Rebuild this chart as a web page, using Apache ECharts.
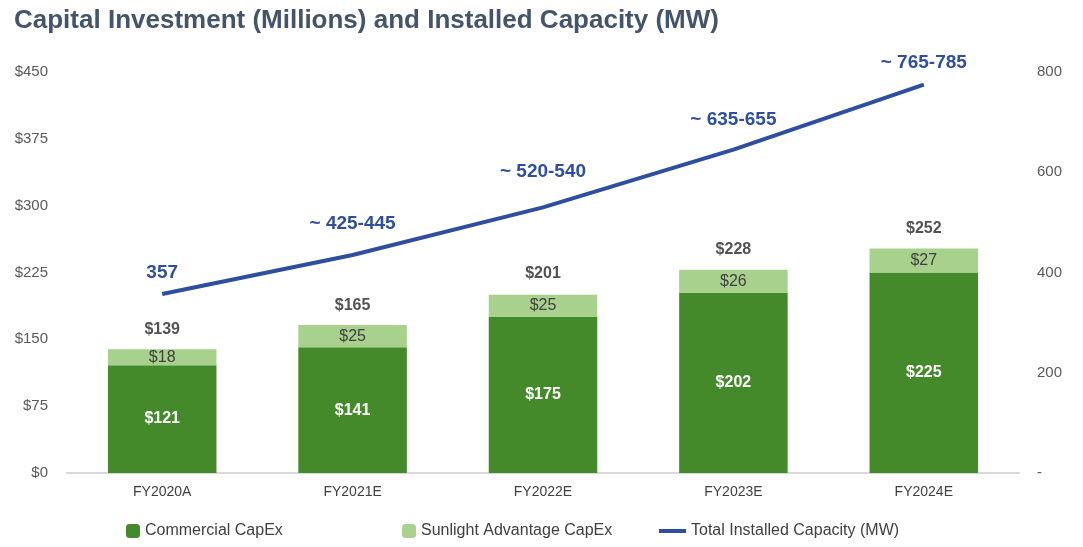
<!DOCTYPE html>
<html><head><meta charset="utf-8">
<script src="https://cdn.jsdelivr.net/npm/echarts@6/dist/echarts.min.js"></script>
<style>html,body{margin:0;padding:0;background:#fff}#c{width:1083px;height:547px}</style>
</head><body><div id="c"></div>
<script>
var categories = ['FY2020A','FY2021E','FY2022E','FY2023E','FY2024E'];
var commercial = [121, 141, 175, 202, 225];
var sunlight = [18, 25, 25, 26, 27];
var totals = [139, 165, 201, 228, 252];
var capacity = [357, 435, 530, 645, 775];
var capacityLabels = ['357', '~ 425-445', '~ 520-540', '~ 635-655', '~ 765-785'];
var capacityLabelOffsets = [12, 22, 26, 20, 12];
var leftTicks = [0, 75, 150, 225, 300, 375, 450];
var rightTicks = [0, 200, 400, 600, 800];

var chart = echarts.init(document.getElementById('c'));
var font = 'Liberation Sans, Arial, sans-serif';
chart.setOption({
  animation: false,
  textStyle: {fontFamily: font},
  title: {text: 'Capital Investment (Millions) and Installed Capacity (MW)', left: 9, top: 3,
    textStyle: {fontSize: 26, fontWeight: 'bold', color: '#44546A', fontFamily: font}},
  grid: {left: 67, right: 64, top: 72, bottom: 74},
  legend: [
    {data: ['Commercial CapEx'], left: 121, top: 518, itemWidth: 14, itemHeight: 14, itemGap: 10,
      textStyle: {fontSize: 16, color: '#404040'}},
    {data: ['Sunlight Advantage CapEx'], left: 397, top: 518, itemWidth: 14, itemHeight: 14,
      textStyle: {fontSize: 16, color: '#404040'}},
    {data: [{name: 'Total Installed Capacity (MW)', icon: 'rect'}], left: 654, top: 518, itemWidth: 27, itemHeight: 4,
      textStyle: {fontSize: 16, color: '#404040'}}
  ],
  xAxis: {type: 'category', data: categories,
    axisLine: {lineStyle: {color: '#D9D9D9', width: 2}}, axisTick: {show: false},
    axisLabel: {fontSize: 14, color: '#404040', margin: 12}},
  yAxis: [
    {type: 'value', min: leftTicks[0], max: leftTicks[leftTicks.length-1], interval: 75,
      splitLine: {show: false}, axisLine: {show: false}, axisTick: {show: false},
      axisLabel: {fontSize: 15, color: '#595959', margin: 19, formatter: function(v){return '$' + v;}}},
    {type: 'value', min: rightTicks[0], max: rightTicks[rightTicks.length-1], interval: 200,
      splitLine: {show: false}, axisLine: {show: false}, axisTick: {show: false},
      axisLabel: {fontSize: 15, color: '#595959', margin: 18, align: 'left',
        formatter: function(v){return v === 0 ? '-' : String(v);}}}
  ],
  series: [
    {name: 'Commercial CapEx', type: 'bar', stack: 'capex', data: commercial, barWidth: '57%',
      itemStyle: {color: '#458A2A'},
      label: {show: true, position: 'inside', color: '#fff', fontSize: 16, fontWeight: 'bold',
        formatter: function(p){return '$' + p.value;}}},
    {name: 'Sunlight Advantage CapEx', type: 'bar', stack: 'capex', data: sunlight,
      itemStyle: {color: '#A9D18E'},
      label: {show: true, position: 'inside', color: '#404040', fontSize: 16,
        formatter: function(p){return '$' + p.value;}}},
    {name: 'Totals', type: 'scatter', data: totals, symbolSize: 0, silent: true,
      label: {show: true, position: 'top', distance: 12, color: '#262626', fontSize: 16, fontWeight: 'bold',
        formatter: function(p){return '$' + p.value;}}},
    {name: 'Total Installed Capacity (MW)', type: 'line', yAxisIndex: 1, z: 5,
      data: capacity.map(function(v, i){
        return {value: v, label: {distance: capacityLabelOffsets[i]}};
      }),
      symbol: 'circle', symbolSize: 0, showSymbol: true,
      lineStyle: {color: '#2E4F9F', width: 4}, itemStyle: {color: '#2E4F9F'},
      label: {show: true, position: 'top', color: '#2E4F9F', fontSize: 19, fontWeight: 'bold',
        formatter: function(p){return capacityLabels[p.dataIndex];}}}
  ]
});
</script></body></html>
